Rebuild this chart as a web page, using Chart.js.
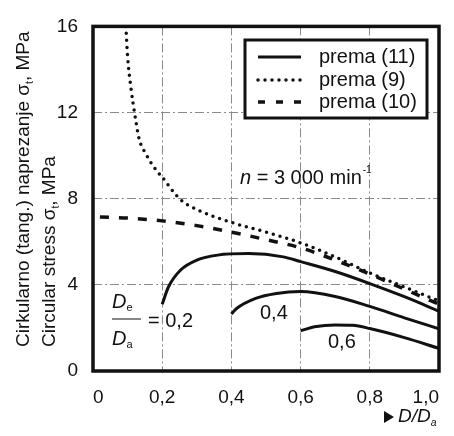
<!DOCTYPE html>
<html>
<head>
<meta charset="utf-8">
<script src="https://cdn.jsdelivr.net/npm/chart.js@4.4.1/dist/chart.umd.min.js"></script>
<style>
  html, body { margin: 0; padding: 0; background: #fff; }
  #wrap { width: 454px; height: 436px; }
</style>
</head>
<body>
<div id="wrap"><canvas id="c" width="454" height="436"></canvas></div>
<script>
// values (x = D/Da, y = stress in MPa)
const xTicks = [0, 0.2, 0.4, 0.6, 0.8, 1.0];
const yTicks = [0, 4, 8, 12, 16];

// prema (9) - dotted
const x9 = [0.095, 0.1, 0.11, 0.12, 0.133, 0.152, 0.184, 0.2, 0.25, 0.3, 0.4, 0.5, 0.6, 0.7, 0.8, 0.9, 1.0];
const y9 = [16.0, 14.6, 13.1, 12.0, 10.8, 10.1, 9.3, 9.0, 8.0, 7.5, 6.9, 6.45, 5.95, 5.3, 4.55, 3.9, 3.25];

// prema (10) - dashed
const x10 = [0.02, 0.1, 0.2, 0.3, 0.4, 0.5, 0.6, 0.7, 0.8, 0.9, 1.0];
const y10 = [7.15, 7.1, 6.97, 6.75, 6.45, 6.1, 5.72, 5.15, 4.5, 3.8, 3.1];

// prema (11) - solid, one curve per De/Da
const x11a = [0.2, 0.218, 0.254, 0.3, 0.36, 0.45, 0.55, 0.6, 0.7, 0.8, 0.9, 1.0];
const y11a = [3.1, 3.9, 4.7, 5.15, 5.38, 5.45, 5.3, 5.08, 4.62, 4.06, 3.45, 2.78];
const x11b = [0.4, 0.415, 0.47, 0.53, 0.6, 0.7, 0.8, 0.9, 1.0];
const y11b = [2.65, 2.9, 3.37, 3.6, 3.69, 3.46, 3.0, 2.47, 1.96];
const x11c = [0.6, 0.64, 0.7, 0.75, 0.8, 0.9, 1.0];
const y11c = [1.87, 2.05, 2.14, 2.12, 1.97, 1.55, 1.05];

const FONT = "'Liberation Sans', Arial, sans-serif";
const INK = '#111';

const pts = (xs, ys) => xs.map((x, i) => ({ x, y: ys[i] }));
const fmt = v => v === 0 ? '0' : v.toFixed(1).replace('.', ',');

// draw text runs, {t, sub, sup, italic}
function drawRuns(ctx, runs, x, y, size) {
    let cx = x;
    runs.forEach(r => {
        const s = (r.sub || r.sup) ? size * 0.55 : size;
        ctx.font = (r.italic ? 'italic ' : '') + s + 'px ' + FONT;
        const dy = r.sub ? size * 0.3 : (r.sup ? -size * 0.45 : 0);
        ctx.fillText(r.t, cx, y + dy);
        cx += ctx.measureText(r.t).width;
    });
    return cx;
}

const decor = {
    id: 'decor',
    afterDraw(chart) {
        const ctx = chart.ctx;
        const a = chart.chartArea;
        ctx.save();
        ctx.fillStyle = INK;
        ctx.strokeStyle = INK;

        // frame
        ctx.lineWidth = 3.5;
        ctx.setLineDash([]);
        ctx.strokeRect(a.left, a.top, a.right - a.left, a.bottom - a.top);

        // y title, two rotated lines
        ctx.textBaseline = 'middle';
        ctx.textAlign = 'left';
        ctx.save();
        ctx.translate(24, 347);
        ctx.rotate(-Math.PI / 2);
        drawRuns(ctx, [{ t: 'Cirkularno (tang.) naprezanje σ' }, { t: 't', sub: true }, { t: ', MPa' }], 0, 0, 19);
        ctx.restore();
        ctx.save();
        ctx.translate(50, 347);
        ctx.rotate(-Math.PI / 2);
        drawRuns(ctx, [{ t: 'Circular stress σ' }, { t: 't', sub: true }, { t: ', MPa' }], 0, 0, 19);
        ctx.restore();

        // legend box
        const lx = 245, ly = 40, lw = 182, lh = 78;
        ctx.fillStyle = '#fff';
        ctx.fillRect(lx, ly, lw, lh);
        ctx.lineWidth = 3;
        ctx.strokeRect(lx, ly, lw, lh);
        ctx.fillStyle = INK;
        const rows = [
            { ds: 0, y: 57 },
            { ds: 3, y: 80 },
            { ds: 4, y: 102 }
        ];
        rows.forEach(r => {
            const d = chart.data.datasets[r.ds];
            ctx.save();
            ctx.lineWidth = d.borderWidth;
            ctx.lineCap = d.borderCapStyle || 'butt';
            ctx.setLineDash(r.ds === 4 ? [7, 11] : (d.borderDash || []));
            ctx.beginPath();
            ctx.moveTo(258, r.y);
            ctx.lineTo(301, r.y);
            ctx.stroke();
            ctx.restore();
            ctx.font = '20px ' + FONT;
            ctx.textBaseline = 'middle';
            ctx.textAlign = 'left';
            ctx.fillText(d.label, 319, r.y);
        });

        // annotations
        ctx.textBaseline = 'middle';
        ctx.textAlign = 'left';
        let ex = drawRuns(ctx, [{ t: 'n', italic: true }, { t: ' = 3 000 min' }], 240, 178, 20);
        ctx.font = '10px ' + FONT;
        ctx.fillText('-1', ex + 1, 170);

        drawRuns(ctx, [{ t: 'D', italic: true }, { t: 'e', sub: true }], 112, 302, 20);
        ctx.lineWidth = 1;
        ctx.beginPath();
        ctx.moveTo(112, 319);
        ctx.lineTo(141, 319);
        ctx.stroke();
        drawRuns(ctx, [{ t: 'D', italic: true }, { t: 'a', sub: true }], 112, 339, 20);
        ctx.font = '20px ' + FONT;
        ctx.fillText('= 0,2', 148, 321);
        ctx.fillText('0,4', 260, 313);
        ctx.fillText('0,6', 328, 342);

        // x axis title
        ctx.beginPath();
        ctx.moveTo(384, 411);
        ctx.lineTo(394, 417);
        ctx.lineTo(384, 423);
        ctx.closePath();
        ctx.fill();
        drawRuns(ctx, [{ t: 'D/D', italic: true }, { t: 'a', sub: true, italic: true }], 398, 417, 19);

        ctx.restore();
    }
};

const solid = (label, data) => ({
    label, data,
    borderColor: INK, borderWidth: 3, pointRadius: 0,
    cubicInterpolationMode: 'monotone', fill: false
});

new Chart(document.getElementById('c').getContext('2d'), {
    type: 'line',
    data: {
        datasets: [
            solid('prema (11)', pts(x11a, y11a)),
            solid('prema (11) 0,4', pts(x11b, y11b)),
            solid('prema (11) 0,6', pts(x11c, y11c)),
            {
                label: 'prema (9)',
                data: pts(x9, y9),
                borderColor: INK, borderWidth: 3.5, pointRadius: 0,
                borderDash: [0, 7], borderCapStyle: 'round',
                cubicInterpolationMode: 'monotone', fill: false
            },
            {
                label: 'prema (10)',
                data: pts(x10, y10),
                borderColor: INK, borderWidth: 3.5, pointRadius: 0,
                borderDash: [9, 10],
                cubicInterpolationMode: 'monotone', fill: false
            }
        ]
    },
    options: {
        responsive: false,
        devicePixelRatio: 1,
        animation: false,
        layout: { padding: { top: 20, right: 7, left: 0, bottom: 0 } },
        plugins: { legend: { display: false }, tooltip: { enabled: false } },
        scales: {
            x: {
                type: 'linear', min: 0, max: 1.0,
                afterBuildTicks: s => { s.ticks = xTicks.map(v => ({ value: v })); },
                afterFit: s => { s.height = 65; },
                ticks: { callback: v => fmt(v), color: INK, font: { family: FONT, size: 19 }, padding: 15, align: 'inner', maxRotation: 0 },
                grid: {
                    drawTicks: false, lineWidth: 1,
                    color: c => (c.tick.value === 0 || c.tick.value === 1) ? 'rgba(0,0,0,0)' : '#8a8a8a'
                },
                border: { display: false, dash: [9, 3, 2, 3] }
            },
            y: {
                min: 0, max: 16,
                afterBuildTicks: s => { s.ticks = yTicks.map(v => ({ value: v })); },
                afterFit: s => { s.width = 93; },
                ticks: { callback: v => String(v), color: INK, font: { family: FONT, size: 19 }, padding: 15 },
                grid: {
                    drawTicks: false, lineWidth: 1,
                    color: c => (c.tick.value === 0 || c.tick.value === 16) ? 'rgba(0,0,0,0)' : '#8a8a8a'
                },
                border: { display: false, dash: [9, 3, 2, 3] }
            }
        }
    },
    plugins: [decor]
});
</script>
</body>
</html>
